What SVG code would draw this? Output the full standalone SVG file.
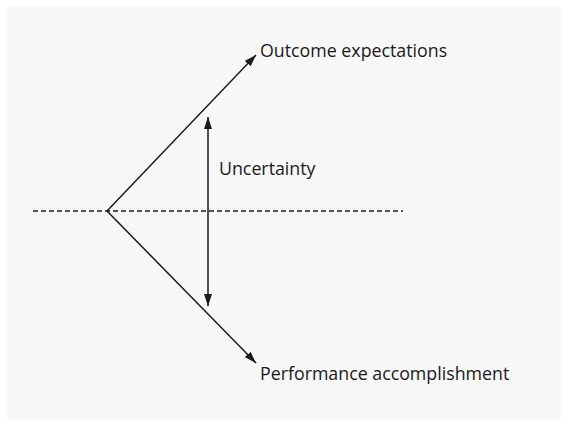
<svg xmlns="http://www.w3.org/2000/svg" width="568" height="426" viewBox="0 0 568 426">
<defs>
<style>
.lbl{font-family:"Open Sans","Noto Sans",sans-serif;font-size:17.8px;fill:#1a1a1a}
.ln{stroke:#1a1a1a;stroke-width:1.5;fill:none}
</style>
<marker id="ah" viewBox="0 0 12 8" refX="12" refY="4" markerWidth="12" markerHeight="8" markerUnits="userSpaceOnUse" orient="auto-start-reverse">
<path d="M0,0 L12,4 L0,8 z" fill="#1a1a1a"/>
</marker>
</defs>
<rect width="568" height="426" fill="#ffffff"/>
<rect x="7" y="7" width="554" height="413" fill="#f7f7f7"/>
<g id="connectors">
<line class="ln" x1="33" y1="211" x2="403" y2="211" stroke-dasharray="5,3"/>
<line class="ln" x1="107" y1="211" x2="256" y2="55" marker-end="url(#ah)"/>
<line class="ln" x1="107" y1="211" x2="256" y2="363" marker-end="url(#ah)"/>
<line class="ln" x1="208" y1="117" x2="208" y2="306" marker-start="url(#ah)" marker-end="url(#ah)"/>
</g>
<g id="outcome"><text class="lbl" x="260" y="57">Outcome expectations</text></g>
<g id="uncertainty"><text class="lbl" x="219" y="175">Uncertainty</text></g>
<g id="performance"><text class="lbl" x="260" y="380">Performance accomplishment</text></g>
</svg>
